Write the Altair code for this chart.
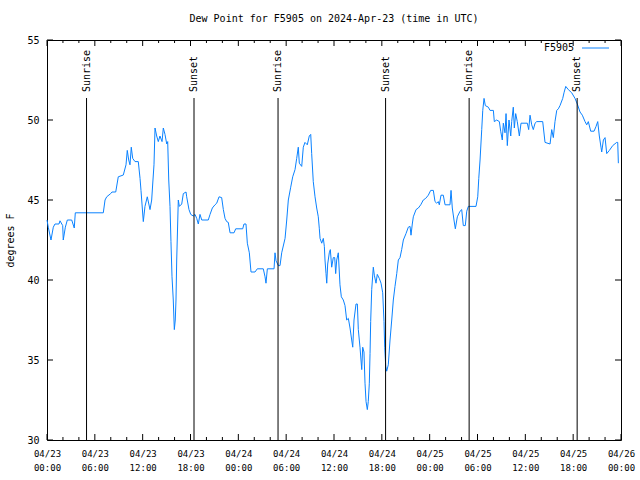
import altair as alt
import pandas as pd

TITLE = "Dew Point for F5905 on 2024-Apr-23 (time in UTC)"
SERIES = "F5905"
Y_TITLE = "degrees F"

# hours since 2024-04-23 00:00 UTC
hours = [0, 0.16, 0.50, 0.79, 1.0, 1.5, 1.63, 1.97, 2.04, 2.30, 2.55, 3.10, 3.42, 3.55, 7.06, 7.28, 7.49, 7.99, 8.15, 8.62,
         8.94, 9.57, 9.91, 10.07, 10.25, 10.41, 10.57, 10.75, 11.04, 11.45, 11.67, 11.79, 12.08, 12.29, 12.58, 12.92, 13.13, 13.26, 13.42, 13.55,
         13.76, 13.96, 14.17, 14.43, 14.59, 14.80, 15.02, 15.14, 15.27, 15.43, 15.55, 15.68, 15.84, 15.97, 16.09, 16.18, 16.27, 16.47, 16.60, 16.90,
         17.10, 17.44, 17.52, 17.81, 18.03, 18.35, 18.57, 18.78, 18.98, 19.19, 19.41, 20.23, 20.45, 20.74, 21.07, 21.29, 21.58, 21.91, 22.12, 22.33,
         22.54, 22.74, 22.96, 23.46, 23.67, 24.55, 24.71, 24.96, 25.13, 25.38, 25.59, 26.09, 26.38, 27.13, 27.35, 27.47, 27.64, 28.48, 28.60, 28.73,
         29.02, 29.23, 29.44, 29.86, 30.07, 30.27, 30.57, 30.82, 31.11, 31.32, 31.52, 31.65, 31.95, 32.15, 32.36, 32.65, 32.90, 33.08, 33.20, 33.40,
         33.62, 33.83, 34.03, 34.16, 34.25, 34.46, 34.66, 34.79, 34.87, 35.00, 35.09, 35.21, 35.41, 35.54, 35.71, 35.91, 36.09, 36.21, 36.34, 36.54,
         36.75, 36.92, 37.17, 37.38, 37.59, 37.80, 38.01, 38.22, 38.35, 38.51, 38.76, 38.93, 39.05, 39.26, 39.48, 39.60, 39.76, 39.89, 40.02, 40.18,
         40.30, 40.43, 40.52, 40.60, 40.73, 40.93, 41.06, 41.27, 41.43, 41.68, 41.90, 42.11, 42.27, 42.36, 42.49, 42.61, 42.81, 43.03, 43.24, 43.44,
         43.65, 43.87, 44.07, 44.28, 44.49, 44.70, 45.03, 45.32, 45.54, 45.66, 45.82, 45.95, 46.29, 46.58, 46.88, 47.20, 47.50, 47.83, 48.13, 48.46,
         48.67, 48.88, 49.08, 49.21, 49.42, 49.71, 49.93, 50.55, 50.68, 50.84, 51.05, 51.22, 51.47, 51.81, 52.02, 52.22, 52.47, 52.65, 52.85, 53.81,
         54.03, 54.16, 54.32, 54.53, 54.66, 54.82, 54.98, 55.36, 55.57, 55.99, 56.11, 56.41, 56.74, 56.91, 57.11, 57.24, 57.45, 57.58, 57.74, 57.95,
         58.17, 58.29, 58.49, 58.62, 58.79, 58.99, 59.25, 59.46, 60.25, 60.42, 60.59, 60.80, 61.00, 61.22, 61.43, 62.18, 62.47, 63.10, 63.31, 63.51,
         63.72, 63.94, 64.14, 64.35, 64.69, 64.85, 65.07, 65.39, 65.82, 66.23, 66.52, 66.86, 67.15, 67.49, 67.70, 67.90, 68.20, 68.62, 68.87, 69.08,
         69.28, 69.49, 69.58, 69.79, 70.00, 70.21, 70.54, 70.96, 71.46, 71.59, 71.67]

dewpoint = [43.75, 43.3, 42.5, 43.3, 43.5, 43.5, 43.7, 43.4, 42.5, 43.3, 43.75, 43.75, 43.25, 44.2, 44.2, 45.0, 45.2, 45.4, 45.5, 45.5,
            46.45, 46.56, 47.2, 48.1, 47.5, 47.2, 48.3, 47.6, 47.4, 47.4, 46.35, 45.6, 43.65, 44.6, 45.2, 44.4, 45.0, 46.0, 47.2, 49.5,
            49.0, 48.65, 49.0, 48.65, 49.5, 49.1, 48.5, 48.65, 46.25, 44.6, 42.4, 40.2, 38.75, 36.9, 37.5, 38.75, 41.25, 45.0, 44.6, 44.75,
            45.4, 45.5, 45.2, 44.4, 44.1, 44.0, 44.1, 43.85, 43.5, 44.1, 43.75, 43.75, 44.1, 44.5, 44.7, 44.8, 45.2, 45.15, 44.4, 43.85,
            43.65, 43.6, 42.95, 42.95, 43.2, 43.2, 43.5, 43.5, 42.3, 41.7, 40.5, 40.5, 40.7, 40.7, 40.2, 39.8, 40.7, 40.7, 41.7, 41.2,
            40.9, 40.9, 41.7, 42.6, 43.75, 45.0, 45.8, 46.45, 46.9, 47.6, 48.3, 47.3, 47.1, 48.3, 48.6, 48.45, 49.0, 49.1, 47.9, 46.15,
            45.2, 44.5, 43.95, 43.2, 42.6, 42.3, 42.6, 42.1, 41.25, 40.4, 39.8, 41.0, 41.7, 41.9, 40.8, 41.4, 41.4, 40.4, 41.25, 41.7,
            39.7, 38.95, 38.75, 38.4, 37.5, 37.6, 37.0, 36.25, 35.8, 37.5, 38.5, 38.5, 36.9, 35.8, 34.4, 35.8, 35.5, 33.55, 32.4, 31.9,
            32.4, 33.55, 35.4, 37.4, 39.4, 40.8, 40.3, 39.8, 40.35, 40.1, 39.8, 39.2, 37.4, 35.8, 34.6, 34.3, 34.7, 36.25, 37.5, 38.75,
            39.6, 40.4, 41.25, 41.4, 41.9, 42.5, 42.9, 43.3, 43.35, 42.8, 43.5, 43.95, 44.4, 44.5, 44.7, 45.0, 45.1, 45.3, 45.6, 45.6,
            44.9, 44.8, 44.9, 44.7, 45.3, 45.3, 44.7, 44.7, 45.6, 44.5, 43.75, 43.2, 43.95, 44.3, 44.4, 43.4, 43.4, 44.3, 44.6, 44.6,
            45.2, 46.35, 47.5, 49.4, 50.6, 51.35, 50.9, 50.8, 50.6, 50.6, 49.9, 50.0, 49.9, 49.3, 48.75, 49.8, 49.2, 50.4, 48.4, 50.0,
            49.0, 49.9, 50.8, 49.5, 50.4, 49.9, 49.0, 49.8, 49.8, 49.4, 50.3, 49.7, 49.4, 49.8, 49.9, 49.9, 48.6, 48.5, 49.4, 48.9,
            49.9, 50.6, 50.7, 50.9, 51.35, 51.7, 52.1, 51.9, 51.7, 51.35, 51.0, 50.5, 50.3, 49.9, 49.7, 49.9, 49.3, 49.3, 49.6, 49.9,
            49.0, 48.3, 48.0, 48.75, 48.9, 47.9, 48.1, 48.4, 48.6, 48.6, 47.3]

event_hours = [4.96, 18.44, 28.98, 42.47, 52.95, 66.5]
event_labels = ["Sunrise", "Sunset", "Sunrise", "Sunset", "Sunrise", "Sunset"]

x_major = [0, 6, 12, 18, 24, 30, 36, 42, 48, 54, 60, 66, 72]
x_minor = [2, 4, 8, 10, 14, 16, 20, 22, 26, 28, 32, 34, 38, 40, 44, 46, 50, 52, 56, 58, 62, 64, 68, 70]
y_ticks = [30, 35, 40, 45, 50, 55]

assert len(hours) == len(dewpoint), (len(hours), len(dewpoint))

W, H = 574, 400
FONT = "DejaVu Sans Mono"
BLUE = "#0a82ff"

df = pd.DataFrame({"hour": hours, "dew": dewpoint})
ev = pd.DataFrame({"hour": event_hours, "label": event_labels})
xmaj = pd.DataFrame({"hour": x_major})
xmin = pd.DataFrame({"hour": x_minor})
yt = pd.DataFrame({"dew": y_ticks})
leg = pd.DataFrame({"label": [SERIES]})

xscale = alt.Scale(domain=[0, 72], nice=False, zero=False)
yscale = alt.Scale(domain=[30, 55], nice=False, zero=False)

xax = alt.Axis(
    values=x_major,
    labelExpr="['04/' + (23 + floor(datum.value / 24)), (datum.value % 24 < 10 ? '0' : '') + (datum.value % 24) + ':00']",
    ticks=False, domain=False, grid=False, title=None,
    labelFont=FONT, labelFontSize=9, labelPadding=9, labelLineHeight=14,
    labelColor="black", labelFlush=False, labelOverlap=False,
)
yax = alt.Axis(
    values=y_ticks, ticks=False, domain=False, grid=False,
    title=Y_TITLE, titleFont=FONT, titleFontSize=10, titleFontWeight="normal",
    titleColor="black", titlePadding=11,
    labelFont=FONT, labelFontSize=10, labelPadding=8, labelColor="black",
)


def X():
    return alt.X("hour:Q", scale=xscale, axis=xax)


def Y():
    return alt.Y("dew:Q", scale=yscale, axis=yax)


line = alt.Chart(df).mark_line(color=BLUE, strokeWidth=1).encode(x=X(), y=Y())

ev_rules = alt.Chart(ev).mark_rule(color="black", strokeWidth=1).encode(
    x=X(), y=alt.value(58), y2=alt.value(H)
)
ev_text = alt.Chart(ev).mark_text(
    angle=270, align="left", baseline="middle", font=FONT, fontSize=10, color="black"
).encode(x=X(), y=alt.value(52), text="label:N")

tick_layers = []
for data, ln in ((xmaj, 6), (xmin, 3)):
    tick_layers.append(alt.Chart(data).mark_rule(color="black", strokeWidth=1).encode(
        x=X(), y=alt.value(H), y2=alt.value(H - ln)))
    tick_layers.append(alt.Chart(data).mark_rule(color="black", strokeWidth=1).encode(
        x=X(), y=alt.value(0), y2=alt.value(ln)))
tick_layers.append(alt.Chart(yt).mark_rule(color="black", strokeWidth=1).encode(
    y=Y(), x=alt.value(0), x2=alt.value(6)))
tick_layers.append(alt.Chart(yt).mark_rule(color="black", strokeWidth=1).encode(
    y=Y(), x=alt.value(W), x2=alt.value(W - 6)))

leg_text = alt.Chart(leg).mark_text(
    align="right", baseline="middle", font=FONT, fontSize=10, color="black"
).encode(x=alt.value(527), y=alt.value(8), text="label:N")
leg_line = alt.Chart(leg).mark_rule(color=BLUE, strokeWidth=1).encode(
    x=alt.value(535), x2=alt.value(562), y=alt.value(8))

chart = alt.layer(line, ev_rules, ev_text, *tick_layers, leg_text, leg_line).properties(
    width=W, height=H,
    title=alt.TitleParams(TITLE, font=FONT, fontSize=10, fontWeight="normal", anchor="middle",
                          baseline="bottom", offset=1, color="black"),
    padding={"left": 47, "top": 40, "right": 19, "bottom": 40},
    autosize=alt.AutoSizeParams(type="none"),
    background="white",
).configure_view(stroke="black", strokeWidth=1)

chart.save("out.html", embed_options={"renderer": "svg", "actions": False})
